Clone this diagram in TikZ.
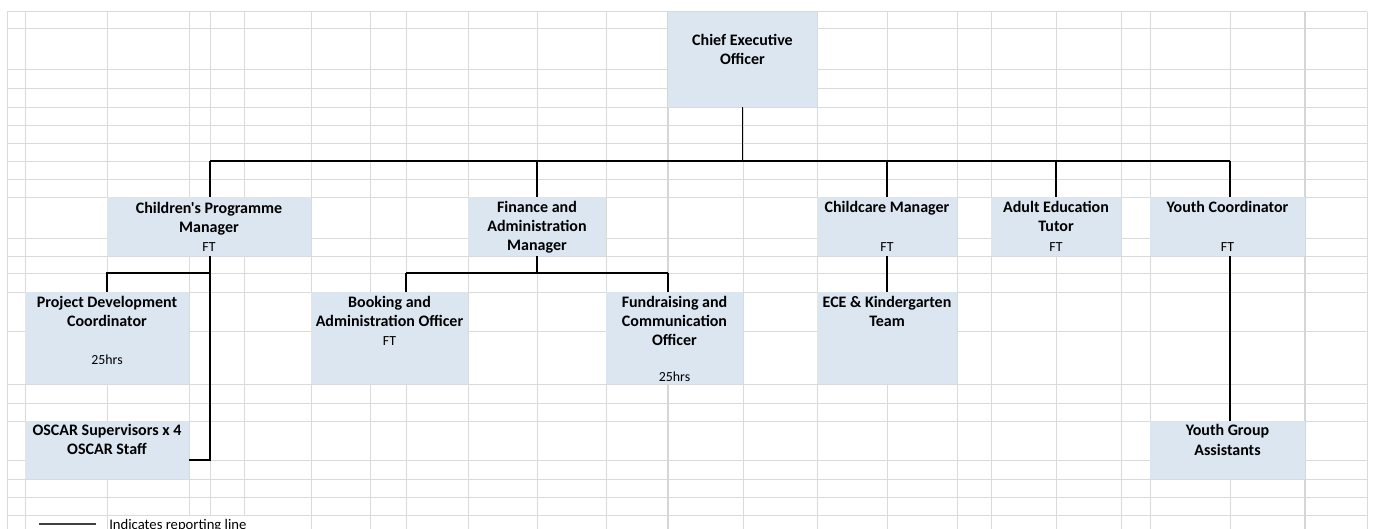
\documentclass[tikz,border=0pt]{standalone}
\usepackage{fontspec}
\setmainfont{Carlito}[Ligatures=TeXOff]
\usetikzlibrary{fit,calc}
\definecolor{gridc}{RGB}{218,218,218}
\definecolor{gridd}{RGB}{214,214,214}
\definecolor{boxc}{RGB}{220,230,241}
\begin{document}
\begin{tikzpicture}[x=0.75pt,y=-0.75pt,
  gridl/.style={draw=gridc,line width=0.75pt},
  gridk/.style={draw=gridd,line width=1.0pt},
  box/.style={fill=boxc,draw=none,inner sep=0pt},
  nm/.style={font=\bfseries\fontsize{12}{14}\selectfont,anchor=base,inner sep=0pt},
  ft/.style={font=\fontsize{10.4}{12}\selectfont,anchor=base,inner sep=0pt},
  conn/.style={draw=black,line width=0.85pt},
  legl/.style={draw=black!75,line width=0.8pt}]
\useasboundingbox (0,0) rectangle (1373,528);
% spreadsheet grid
\foreach \y in {12,29,70,88,107,125,143,161,179,197,238,256,273,292,331,384,403,421,460,479,497,515}
  \draw[gridl] (7,\y) -- (1367,\y);
\foreach \x in {7,25,107,311,370,406,468,537,606,743,817,887,957,991,1056,1121,1150,1230,1367}
  \draw[gridl] (\x,12) -- (\x,530);
\foreach \x in {189,210,244}
  \draw[gridl] (\x,12) -- (\x,515);
\foreach \x in {668,1305}
  \draw[gridk] (\x,12) -- (\x,530);
% boxes
\node[box,fit={(668,12) (817,107)}] (ceo) {};
\node[box,fit={(107,197) (311,256)}] (cpm) {};
\node[box,fit={(468,197) (606,256)}] (fam) {};
\node[box,fit={(817,197) (957,256)}] (ccm) {};
\node[box,fit={(991,197) (1121,256)}] (aet) {};
\node[box,fit={(1150,197) (1305,256)}] (yc) {};
\node[box,fit={(25,292) (189,384)}] (pdc) {};
\node[box,fit={(311,292) (468,384)}] (bao) {};
\node[box,fit={(606,292) (743,384)}] (fco) {};
\node[box,fit={(817,292) (957,384)}] (ece) {};
\node[box,fit={(25,421) (189,479)}] (osc) {};
\node[box,fit={(1150,421) (1305,479)}] (yga) {};
% texts
\node[nm] (ceo1) at (742.5,45.7) {Chief Executive};
\node[nm] (ceo2) at (742.5,64.5) {Officer};
\node[nm] (cpm1) at (209,213) {Children's Programme};
\node[nm] (cpm2) at (209,232) {Manager};
\node[ft] (cpm3) at (209,251) {FT};
\node[nm] (fam1) at (537,212.5) {Finance and};
\node[nm] (fam2) at (537,231.5) {Administration};
\node[nm] (fam3) at (537,250.5) {Manager};
\node[nm] (ccm1) at (887,212.5) {Childcare Manager};
\node[ft] (ccm2) at (887,251) {FT};
\node[nm] (aet1) at (1056,212.5) {Adult Education};
\node[nm] (aet2) at (1056,231.5) {Tutor};
\node[ft] (aet3) at (1056,251) {FT};
\node[nm] (yc1) at (1227.5,212.5) {Youth Coordinator};
\node[ft] (yc2) at (1227.5,251) {FT};
\node[nm] (pdc1) at (107,307.5) {Project Development};
\node[nm] (pdc2) at (107,326.5) {Coordinator};
\node[ft] (pdc3) at (107,364) {25hrs};
\node[nm] (bao1) at (389.5,307.5) {Booking and};
\node[nm] (bao2) at (389.5,326.5) {Administration Officer};
\node[ft] (bao3) at (389.5,345) {FT};
\node[nm] (fco1) at (674.5,307.5) {Fundraising and};
\node[nm] (fco2) at (674.5,326.5) {Communication};
\node[nm] (fco3) at (674.5,345.5) {Officer};
\node[ft] (fco4) at (674.5,381) {25hrs};
\node[nm] (ece1) at (887,307.5) {ECE \& Kindergarten};
\node[nm] (ece2) at (887,326.5) {Team};
\node[nm] (osc1) at (107,435) {OSCAR Supervisors x 4};
\node[nm] (osc2) at (107,454) {OSCAR Staff};
\node[nm] (yga1) at (1227.5,435.5) {Youth Group};
\node[nm] (yga2) at (1227.5,455) {Assistants};
% connectors
\coordinate (busL) at (210,161);
\coordinate (busR) at (1230,161);
\draw[conn] (ceo.south) -- (ceo.south |- busL);
\draw[conn] (busL) -- (busR);
\draw[conn] (busL) -- (cpm.north -| busL);
\draw[conn] (fam.north |- busL) -- (fam.north);
\draw[conn] (ccm.north |- busL) -- (ccm.north);
\draw[conn] (aet.north |- busL) -- (aet.north);
\draw[conn] (busR) -- (yc.north -| busR);
\coordinate (cpmJ) at (210,273);
\coordinate (cpmT) at (210,460);
\draw[conn] (cpm.south -| busL) -- (cpmT) -- (osc.east |- cpmT);
\draw[conn] (cpmJ) -| (pdc.north);
\coordinate (faJ) at (537,273);
\coordinate (faL) at (406,273);
\coordinate (faR) at (668,273);
\draw[conn] (fam.south) -- (faJ);
\draw[conn] (faL) -- (faR);
\draw[conn] (faL) -- (bao.north -| faL);
\draw[conn] (faR) -- (fco.north -| faR);
\draw[conn] (ccm.south) -- (ece.north);
\draw[conn] (yc.south -| busR) -- (yga.north -| busR);
% legend
\coordinate (lg1) at (39,524);
\coordinate (lg2) at (96,524);
\draw[legl] (lg1) -- (lg2);
\node[font=\fontsize{11}{13}\selectfont,anchor=base west,inner sep=0pt] (legend) at (109,529.5) {Indicates reporting line};
\end{tikzpicture}
\end{document}
